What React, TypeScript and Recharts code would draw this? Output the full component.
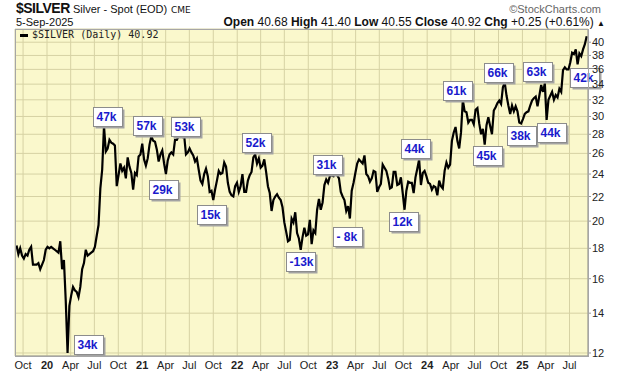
import { LineChart, Line, XAxis, YAxis, CartesianGrid, ReferenceDot } from 'recharts';

// Weekly (Friday) spot closes, 6-Sep-2019 .. 5-Sep-2025
const firstWeek = '2019-09-06';

const close2019 = [18.2, 17.6, 18.0, 17.5, 17.3, 17.6, 17.5, 17.9, 18.1, 16.9, 16.9, 16.9, 17.0, 16.6, 16.9, 17.2, 17.9];
const close2020 = [
  18.1, 18.0, 18.1, 18.0, 17.9, 17.8, 17.7, 18.5, 16.6, 17.2, 14.7, 12.0, 14.4,
  15.0, 15.5, 15.3, 15.2, 14.9, 15.5, 16.6, 17.0, 17.9, 17.5, 17.6, 17.7, 17.8,
  18.1, 18.9, 19.7, 22.7, 24.4, 28.9, 26.2, 26.5, 27.4, 27.1, 27.0, 26.8, 22.9,
  23.9, 25.0, 24.3, 24.6, 23.6, 25.6, 24.7, 24.1, 22.6, 24.1, 23.9, 25.7, 25.9,
];
const close2021 = [
  27.0, 25.4, 24.8, 25.5, 26.9, 27.8, 27.3, 27.2, 26.4, 25.2, 25.9, 26.3, 25.0,
  24.0, 25.3, 25.9, 26.1, 25.9, 27.4, 27.4, 27.8, 27.9, 27.7, 27.9, 25.9, 26.1,
  26.5, 26.1, 25.8, 25.2, 25.5, 24.4, 23.4, 23.1, 24.0, 24.5, 23.8, 22.4, 22.5,
  21.7, 22.6, 23.4, 24.3, 24.0, 24.1, 25.1, 24.7, 23.2, 22.4, 22.1, 22.0, 22.9, 23.2,
];
const close2022 = [
  22.4, 22.9, 24.0, 22.4, 22.4, 23.4, 23.9, 24.2, 25.6, 25.9, 25.0, 25.5,
  24.6, 24.8, 25.4, 24.2, 22.9, 22.3, 20.8, 21.7, 22.0, 22.2, 21.9, 21.7, 21.1,
  19.9, 19.2, 18.5, 18.6, 20.2, 19.9, 20.7, 19.1, 18.7, 17.9, 18.8, 19.5, 18.9, 19.0,
  20.1, 18.3, 19.3, 19.1, 20.9, 21.8, 20.9, 21.5, 23.0, 23.5, 23.2, 23.8, 23.9,
];
const close2023 = [
  23.8, 24.2, 23.9, 23.6, 22.4, 22.0, 21.7, 20.8, 21.2, 20.2, 22.5, 23.2, 24.1,
  25.0, 25.4, 25.2, 25.0, 25.8, 24.0, 23.8, 23.3, 23.6, 24.3, 24.2, 22.4, 22.8,
  23.1, 24.9, 24.6, 24.3, 23.6, 22.7, 22.8, 24.2, 24.2, 23.0, 23.1, 23.7, 22.3,
  20.9, 22.5, 23.3, 23.2, 23.2, 22.3, 23.7, 24.5, 25.4, 23.0, 24.1, 24.3, 23.8,
];
const close2024 = [
  23.2, 23.1, 22.6, 22.9, 22.8, 22.1, 23.4, 22.9, 22.7, 24.3, 25.1, 24.6, 24.9,
  27.3, 28.2, 28.8, 27.3, 26.5, 28.2, 32.0, 30.6, 30.5, 29.3, 29.6, 29.6, 29.1,
  30.8, 31.0, 29.2, 28.0, 28.6, 26.9, 29.0, 29.9, 28.9, 28.0, 30.7, 31.1, 31.6,
  31.9, 31.5, 33.6, 34.2, 32.5, 31.3, 30.3, 31.3, 30.6, 31.2, 30.6, 29.3, 29.2,
];
const close2025 = [
  29.7, 30.3, 30.5, 30.6, 31.3, 31.9, 32.2, 32.4, 31.2, 32.5, 33.9, 33.0, 34.1,
  29.6, 32.0, 32.5, 33.0, 32.0, 32.6, 32.3, 33.4, 33.0, 35.9, 36.3, 36.0, 36.0,
  37.0, 38.4, 38.2, 38.9, 36.7, 38.3, 37.9, 38.9, 39.7, 40.92,
];
const weeklyClose = [...close2019, ...close2020, ...close2021, ...close2022, ...close2023, ...close2024, ...close2025];

const quarterTicks = [
  '2019-10-01',
  '2020-01-01', '2020-04-01', '2020-07-01', '2020-10-01',
  '2021-01-01', '2021-04-01', '2021-07-01', '2021-10-01',
  '2022-01-01', '2022-04-01', '2022-07-01', '2022-10-01',
  '2023-01-01', '2023-04-01', '2023-07-01', '2023-10-01',
  '2024-01-01', '2024-04-01', '2024-07-01', '2024-10-01',
  '2025-01-01', '2025-04-01', '2025-07-01',
];
const priceTicks = [12, 14, 16, 18, 20, 22, 24, 26, 28, 30, 32, 34, 36, 38, 40];
const monthNames = ['Jan', 'Feb', 'Mar', 'Apr', 'May', 'Jun', 'Jul', 'Aug', 'Sep', 'Oct', 'Nov', 'Dec'];

// annotation notes: where they point and what they say
const noteDates = [
  '2020-03-19', '2020-08-06', '2021-02-03', '2021-04-01', '2021-05-28', '2021-09-30',
  '2022-03-08', '2022-09-02', '2022-12-16', '2023-03-09', '2023-10-04', '2023-12-01',
  '2024-05-17', '2024-08-08', '2024-10-24', '2024-12-30', '2025-03-28', '2025-04-04', '2025-07-31',
];
const notePrices = [12.0, 28.9, 27.9, 24.0, 27.9, 21.7, 26.0, 17.9, 23.9, 20.0, 20.9, 25.4, 32.0, 26.9, 34.2, 29.2, 34.1, 29.6, 36.7];
const noteLabels = ['34k', '47k', '57k', '29k', '53k', '15k', '52k', '-13k', '31k', '- 8k', '12k', '44k', '61k', '45k', '66k', '38k', '63k', '44k', '42k'];
// box top-left offset from the point (px)
const noteOffsets = [
  [7, -18], [-11, -19], [-18, -19], [-17, 6], [-9, -18], [-16, 5],
  [-12, -20], [-15, 2], [-15, -20], [-17, 6], [-15, 2], [-18, -20],
  [-20, -19], [-11, 1], [-20, -20], [-15, 3], [-22, -21], [-10, 3], [-7, 4],
];

const DAY = 86400000;
const ts = (s: string) => Date.parse(s + 'T00:00:00Z');
const t0 = ts(firstWeek);
const data = weeklyClose.map((c, i) => ({ t: t0 + i * 7 * DAY, close: c }));
const xTicks = quarterTicks.map(ts);

const SANS = "'Liberation Sans', Arial, sans-serif";

const DateTick = ({ x, y, payload }: any) => {
  const d = new Date(payload.value);
  const m = d.getUTCMonth();
  const isYear = m === 0;
  return (
    <text x={x} y={y + 13} textAnchor="middle" fontSize={11} fontWeight={isYear ? 700 : 400} fill="#222" fontFamily={SANS}>
      {isYear ? String(d.getUTCFullYear()).slice(2) : monthNames[m]}
    </text>
  );
};

const PriceTick = ({ x, y, payload }: any) => (
  <text x={x + 1} y={y + 4} textAnchor="start" fontSize={11} fill="#222" fontFamily={SANS}>
    {payload.value}
  </text>
);

const NoteBox = ({ cx, cy, label, off }: any) => {
  if (cx == null || cy == null) return null;
  const x = Math.round(cx + off[0]) + 0.5;
  const y = Math.round(cy + off[1]) + 0.5;
  return (
    <g>
      <rect x={x + 2} y={y + 2} width={29} height={19} fill="#a3a3a3" />
      <rect x={x} y={y} width={29} height={19} fill="#fff" stroke="#8c8c8c" />
      <text x={x + 3} y={y + 13.5} fontSize={12} fontWeight={700} fill="#1a1acc" fontFamily={SANS}>
        {label}
      </text>
    </g>
  );
};

export default function App() {
  return (
    <div style={{ position: 'absolute', left: 0, top: 0, width: 620, height: 376, background: '#fff', overflow: 'hidden' }}>
      {/* header */}
      <span style={{ position: 'absolute', left: 16, top: 1, fontFamily: SANS, fontSize: 14, lineHeight: '14px', fontWeight: 700, letterSpacing: -0.5, color: '#111' }}>$SILVER</span>
      <span style={{ position: 'absolute', left: 73, top: 4, fontFamily: SANS, fontSize: 11, lineHeight: '11px', color: '#111' }}>Silver - Spot (EOD)</span>
      <span style={{ position: 'absolute', left: 171, top: 5, fontFamily: "'DejaVu Sans', sans-serif", fontSize: 9, lineHeight: '10px', color: '#111' }}>CME</span>
      <span style={{ position: 'absolute', right: 19, top: 4, fontFamily: SANS, fontSize: 11, lineHeight: '11px', color: '#666' }}>©StockCharts.com</span>
      <span style={{ position: 'absolute', left: 16, top: 17, fontFamily: SANS, fontSize: 11, lineHeight: '11px', color: '#111' }}>5-Sep-2025</span>
      <span style={{ position: 'absolute', right: 15, top: 16, fontFamily: SANS, fontSize: 12, lineHeight: '12px', color: '#111', whiteSpace: 'nowrap' }}>
        <b>Open</b> 40.68 <b>High</b> 41.40 <b>Low</b> 40.55 <b>Close</b> 40.92 <b>Chg</b> +0.25 (+0.61%) <span style={{ fontSize: 8 }}>▲</span>
      </span>

      <LineChart width={620} height={376} data={data} margin={{ top: 29, right: 0, bottom: 0, left: 15 }}>
        <CartesianGrid stroke="#d6d2a4" fill="#faf8cc" />
        <XAxis
          dataKey="t"
          type="number"
          domain={[ts('2019-08-31'), ts('2025-09-10')]}
          ticks={xTicks}
          interval={0}
          tick={<DateTick />}
          tickLine={false}
          tickSize={0}
          tickMargin={0}
          height={20}
          axisLine={{ stroke: '#999' }}
          allowDataOverflow
        />
        <YAxis
          orientation="right"
          scale="log"
          domain={[11.86, 42.1]}
          ticks={priceTicks}
          interval={0}
          allowDataOverflow
          width={32}
          tick={<PriceTick />}
          tickSize={3}
          tickMargin={0}
          tickLine={{ stroke: '#999' }}
          axisLine={{ stroke: '#999' }}
        />
        <Line dataKey="close" type="linear" stroke="#000" strokeWidth={2.2} dot={false} isAnimationActive={false} />
        {noteLabels.map((label, i) => (
          <ReferenceDot
            key={i}
            x={ts(noteDates[i])}
            y={notePrices[i]}
            r={0}
            ifOverflow="visible"
            shape={(p: any) => <NoteBox cx={p.cx} cy={p.cy} label={label} off={noteOffsets[i]} />}
          />
        ))}
      </LineChart>

      {/* plot frame + in-chart legend */}
      <div style={{ position: 'absolute', left: 15, top: 29, width: 574, height: 328, border: '1px solid #a6a6a6', boxSizing: 'border-box', pointerEvents: 'none' }} />
      <div style={{ position: 'absolute', left: 20, top: 34, width: 8, height: 3, background: '#000' }} />
      <span style={{ position: 'absolute', left: 32, top: 30, fontFamily: "'DejaVu Sans Mono', monospace", fontSize: 10, lineHeight: '10px', color: '#222' }}>$SILVER (Daily) 40.92</span>
    </div>
  );
}
